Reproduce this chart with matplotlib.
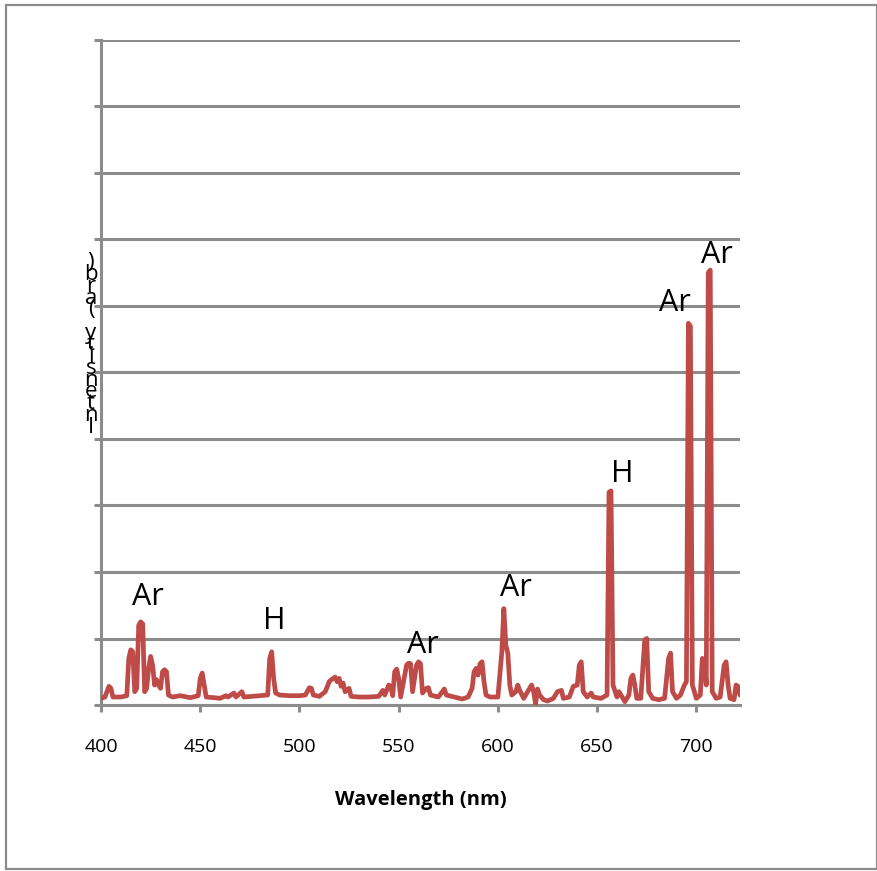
import matplotlib
matplotlib.use("Agg")
import matplotlib.pyplot as plt
from matplotlib.patches import Rectangle

plt.rcParams['font.family'] = ['Open Sans', 'DejaVu Sans']

wavelength = [400, 402, 404, 405, 406, 410, 413, 414, 415, 416, 417, 418, 419, 420, 421, 422, 423, 424, 425, 426,
              427, 428, 429, 430, 431, 432, 433, 434, 436, 440, 445, 449, 450, 451, 452, 453, 457, 460, 463, 464,
              467, 468, 471, 472, 476, 480, 484, 485, 486, 487, 488, 490, 495, 500, 503, 505, 506, 507, 510, 513,
              515, 516, 518, 519, 520, 521, 522, 523, 525, 526, 530, 535, 540, 542, 543, 545, 546, 547, 548, 549,
              550, 551, 554, 555, 556, 557, 559, 560, 561, 562, 564, 565, 566, 570, 572, 573, 574, 578, 582, 585,
              587, 588, 589, 590, 591, 592, 593, 594, 596, 600, 602, 603, 604, 605, 606, 607, 609, 610, 611, 613,
              615, 617, 618, 619, 620, 621, 623, 625, 628, 630, 632, 633, 636, 638, 640, 641, 642, 643, 645, 647,
              648, 652, 655, 656, 657, 658, 660, 661, 662, 664, 666, 667, 668, 669, 670, 672, 674, 675, 676, 678,
              681, 684, 686, 687, 688, 690, 692, 694, 695, 696, 697, 698, 700, 702, 703, 704, 705, 706, 707, 708,
              710, 712, 714, 715, 716, 717, 719, 720, 721, 722]
intensity = [0.10, 0.12, 0.28, 0.25, 0.12, 0.12, 0.14, 0.70, 0.83, 0.80, 0.20, 0.25, 1.20, 1.25, 1.22, 0.20, 0.25, 0.55, 0.73, 0.60,
             0.30, 0.38, 0.30, 0.25, 0.50, 0.53, 0.50, 0.15, 0.12, 0.14, 0.11, 0.14, 0.40, 0.48, 0.30, 0.12, 0.11, 0.10, 0.14, 0.12,
             0.18, 0.12, 0.20, 0.12, 0.13, 0.14, 0.15, 0.70, 0.80, 0.40, 0.18, 0.15, 0.14, 0.14, 0.15, 0.26, 0.25, 0.15, 0.13, 0.20,
             0.35, 0.38, 0.42, 0.35, 0.40, 0.28, 0.33, 0.20, 0.25, 0.13, 0.12, 0.12, 0.13, 0.22, 0.15, 0.30, 0.28, 0.14, 0.50, 0.54,
             0.40, 0.12, 0.60, 0.63, 0.62, 0.20, 0.60, 0.65, 0.62, 0.18, 0.25, 0.26, 0.15, 0.12, 0.20, 0.24, 0.15, 0.12, 0.09, 0.12,
             0.25, 0.50, 0.55, 0.45, 0.62, 0.65, 0.35, 0.15, 0.12, 0.12, 0.80, 1.45, 0.90, 0.78, 0.30, 0.15, 0.20, 0.30, 0.22, 0.10,
             0.20, 0.30, 0.20, 0.02, 0.24, 0.15, 0.08, 0.06, 0.10, 0.20, 0.22, 0.10, 0.12, 0.28, 0.30, 0.60, 0.65, 0.20, 0.12, 0.18,
             0.12, 0.10, 0.15, 3.20, 3.22, 0.30, 0.12, 0.20, 0.15, 0.05, 0.15, 0.40, 0.45, 0.30, 0.10, 0.10, 0.98, 1.00, 0.20, 0.10,
             0.08, 0.10, 0.70, 0.78, 0.20, 0.10, 0.15, 0.30, 0.35, 5.74, 5.70, 0.30, 0.10, 0.15, 0.70, 0.68, 0.30, 6.50, 6.54, 0.20,
             0.10, 0.12, 0.60, 0.65, 0.30, 0.10, 0.08, 0.30, 0.28, 0.15]

label_text = ["Ar", "H", "Ar", "Ar", "H", "Ar", "Ar"]
label_x = [423.5, 487.5, 562, 609, 662.5, 689, 710.5]
label_y = [1.62, 1.26, 0.90, 1.76, 3.47, 6.05, 6.77]

xticks = [400, 450, 500, 550, 600, 650, 700]
yticks = [0, 1, 2, 3, 4, 5, 6, 7, 8, 9, 10]

grid_c = '#8c8c8c'
line_c = '#be4b48'

fig = plt.figure(figsize=(8.78, 8.71), dpi=100)
ax = fig.add_axes([101/878, 1 - 705/871, (740-101)/878, (705-40)/871])

ax.plot(wavelength, intensity, color=line_c, lw=3.4, solid_joinstyle='round', solid_capstyle='round', zorder=3)

for t, x, y in zip(label_text, label_x, label_y):
    ax.text(x, y, t, fontsize=22, ha='center', va='center', color='black', zorder=4)

ax.set_xlim(400, 722)
ax.set_ylim(0, 10)
ax.set_xticks(xticks)
ax.set_xticklabels([str(v) for v in xticks], fontsize=14)
ax.set_yticks(yticks)
ax.set_yticklabels([])
ax.grid(axis='y', color=grid_c, lw=2.2, zorder=1)
ax.set_axisbelow(True)
for s in ['top', 'right']:
    ax.spines[s].set_visible(False)
for s in ['left', 'bottom']:
    ax.spines[s].set_color(grid_c)
    ax.spines[s].set_linewidth(2.2)
ax.tick_params(axis='both', direction='out', color=grid_c, width=2.2, length=5)
ax.tick_params(axis='x', pad=19)
ax.set_xlabel("Wavelength (nm)", fontsize=14.5, fontweight='bold', labelpad=24)

ylabel_chars = list("Intensity (arb)")[::-1]
fig.text(91/878, 1 - 345/871, "\n".join(ylabel_chars), fontsize=16, ha='center', va='center',
         linespacing=0.42, color='black')

fig.patches.append(Rectangle((6/878, 1 - 869/871), (877-6)/878, (869-5)/871, transform=fig.transFigure,
                             fill=False, edgecolor='#8c8c8c', lw=1.6))

fig.savefig("out.png", dpi=100, facecolor='white')
